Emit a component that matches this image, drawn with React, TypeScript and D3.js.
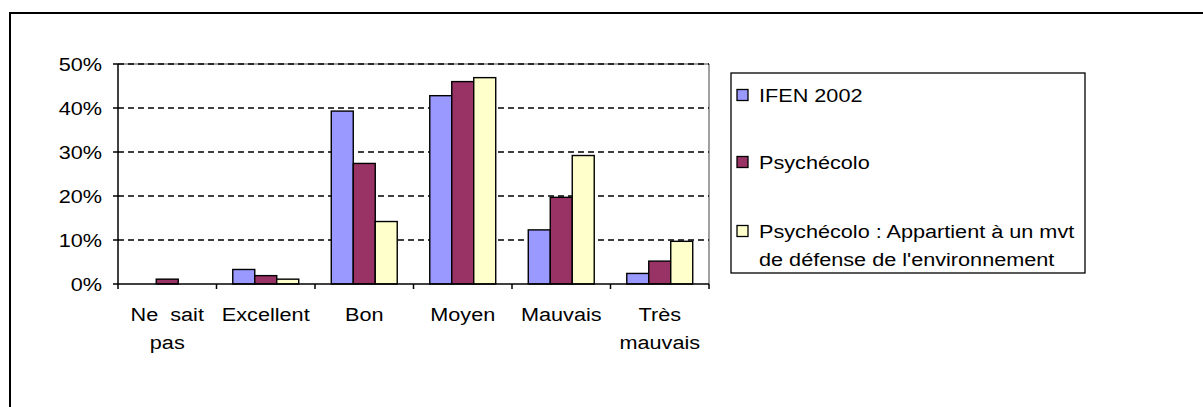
import React from "react";
import * as d3 from "d3";

const categories = ["Ne sait pas", "Excellent", "Bon", "Moyen", "Mauvais", "Très mauvais"];
const categoryLines = [["Ne  sait", "pas"], ["Excellent"], ["Bon"], ["Moyen"], ["Mauvais"], ["Très", "mauvais"]];
const seriesNames = ["IFEN 2002", "Psychécolo", "Psychécolo : Appartient à un mvt de défense de l'environnement"];
const ifen = [0, 3.3, 39.3, 42.8, 12.3, 2.4];
const psychecolo = [1.1, 1.9, 27.4, 46.0, 19.7, 5.2];
const mouvement = [0, 1.1, 14.2, 46.9, 29.2, 9.7];
const yTicks = [0, 10, 20, 30, 40, 50];
const colors = ["#9999FF", "#993366", "#FFFFCC"];

const W = 1203, H = 407;
const FS = 19, SX = 1.14;
const FONT = "'Liberation Sans', Arial, sans-serif";

function T({ x, y, anchor = "start", children }: any) {
  return (
    <text transform={`translate(${x},${y}) scale(${SX},1)`} textAnchor={anchor}
      fontFamily={FONT} fontSize={FS} fill="#000">{children}</text>
  );
}

export default function App() {
  const left = 118, right = 709, top = 64, bottom = 284;
  const x = d3.scaleBand<string>().domain(categories).range([left, right]).padding(0);
  const inner = d3.scaleBand<number>().domain([0, 1, 2]).range([0, x.bandwidth()]).paddingInner(0).paddingOuter(0.74);
  const y = d3.scaleLinear().domain([0, 50]).range([bottom, top]);
  const series = [ifen, psychecolo, mouvement];

  const legendX = 731, legendY = 73, legendW = 354, legendH = 200;
  const legendRows = [
    { lines: [seriesNames[0]], cy: 95 },
    { lines: [seriesNames[1]], cy: 162 },
    { lines: ["Psychécolo : Appartient à un mvt", "de défense de l'environnement"], cy: 231 },
  ];

  return (
    <div style={{ position: "absolute", left: 0, top: 0 }}>
      <svg width={W} height={H} style={{ display: "block", background: "#fff" }}>
        <rect x={10} y={13} width={1400} height={600} fill="#fff" stroke="#000" strokeWidth={2} />
        <line x1={left} x2={right} y1={top} y2={top} stroke="#808080" strokeWidth={1.5} />
        <line x1={right} x2={right} y1={top} y2={bottom} stroke="#808080" strokeWidth={1.5} />
        {yTicks.filter(t => t > 0).map(t => (
          <line key={t} x1={left} x2={right} y1={y(t)} y2={y(t)} stroke="#000" strokeWidth={1.4} strokeDasharray="6,4" />
        ))}
        {series.map((vals, si) => vals.map((v, ci) => v > 0 ? (
          <rect key={`${si}-${ci}`} x={(x(categories[ci]) as number) + (inner(si) as number)} y={y(v)}
            width={inner.bandwidth()} height={bottom - y(v)} fill={colors[si]} stroke="#000" strokeWidth={1.4} />
        ) : null))}
        <line x1={left} x2={left} y1={top} y2={bottom} stroke="#000" strokeWidth={1.5} />
        <line x1={left} x2={right} y1={bottom} y2={bottom} stroke="#000" strokeWidth={1.5} />
        {yTicks.map(t => (
          <g key={t}>
            <line x1={left - 5} x2={left} y1={y(t)} y2={y(t)} stroke="#000" strokeWidth={1.5} />
            <T x={102} y={y(t) + 6.8} anchor="end">{`${t}%`}</T>
          </g>
        ))}
        {categories.map((c) => (
          <line key={c} x1={x(c) as number} x2={x(c) as number} y1={bottom} y2={bottom + 5} stroke="#000" strokeWidth={1.5} />
        ))}
        <line x1={right} x2={right} y1={bottom} y2={bottom + 5} stroke="#000" strokeWidth={1.5} />
        {categories.map((c, i) => (
          categoryLines[i].map((ln, li) => (
            <T key={`${c}-${li}`} x={(x(c) as number) + x.bandwidth() / 2} y={321 + li * 28} anchor="middle">
              <tspan style={{ whiteSpace: "pre" }}>{ln}</tspan>
            </T>
          ))
        ))}
        <rect x={legendX} y={legendY} width={legendW} height={legendH} fill="#fff" stroke="#000" strokeWidth={1.3} />
        {legendRows.map((r, i) => (
          <g key={i}>
            <rect x={737} y={r.cy - 5.5} width={11} height={11} fill={colors[i]} stroke="#000" strokeWidth={1.3} />
            {r.lines.map((ln, li) => (
              <T key={li} x={759} y={r.cy + 6.8 + li * 28}>{ln}</T>
            ))}
          </g>
        ))}
      </svg>
    </div>
  );
}
